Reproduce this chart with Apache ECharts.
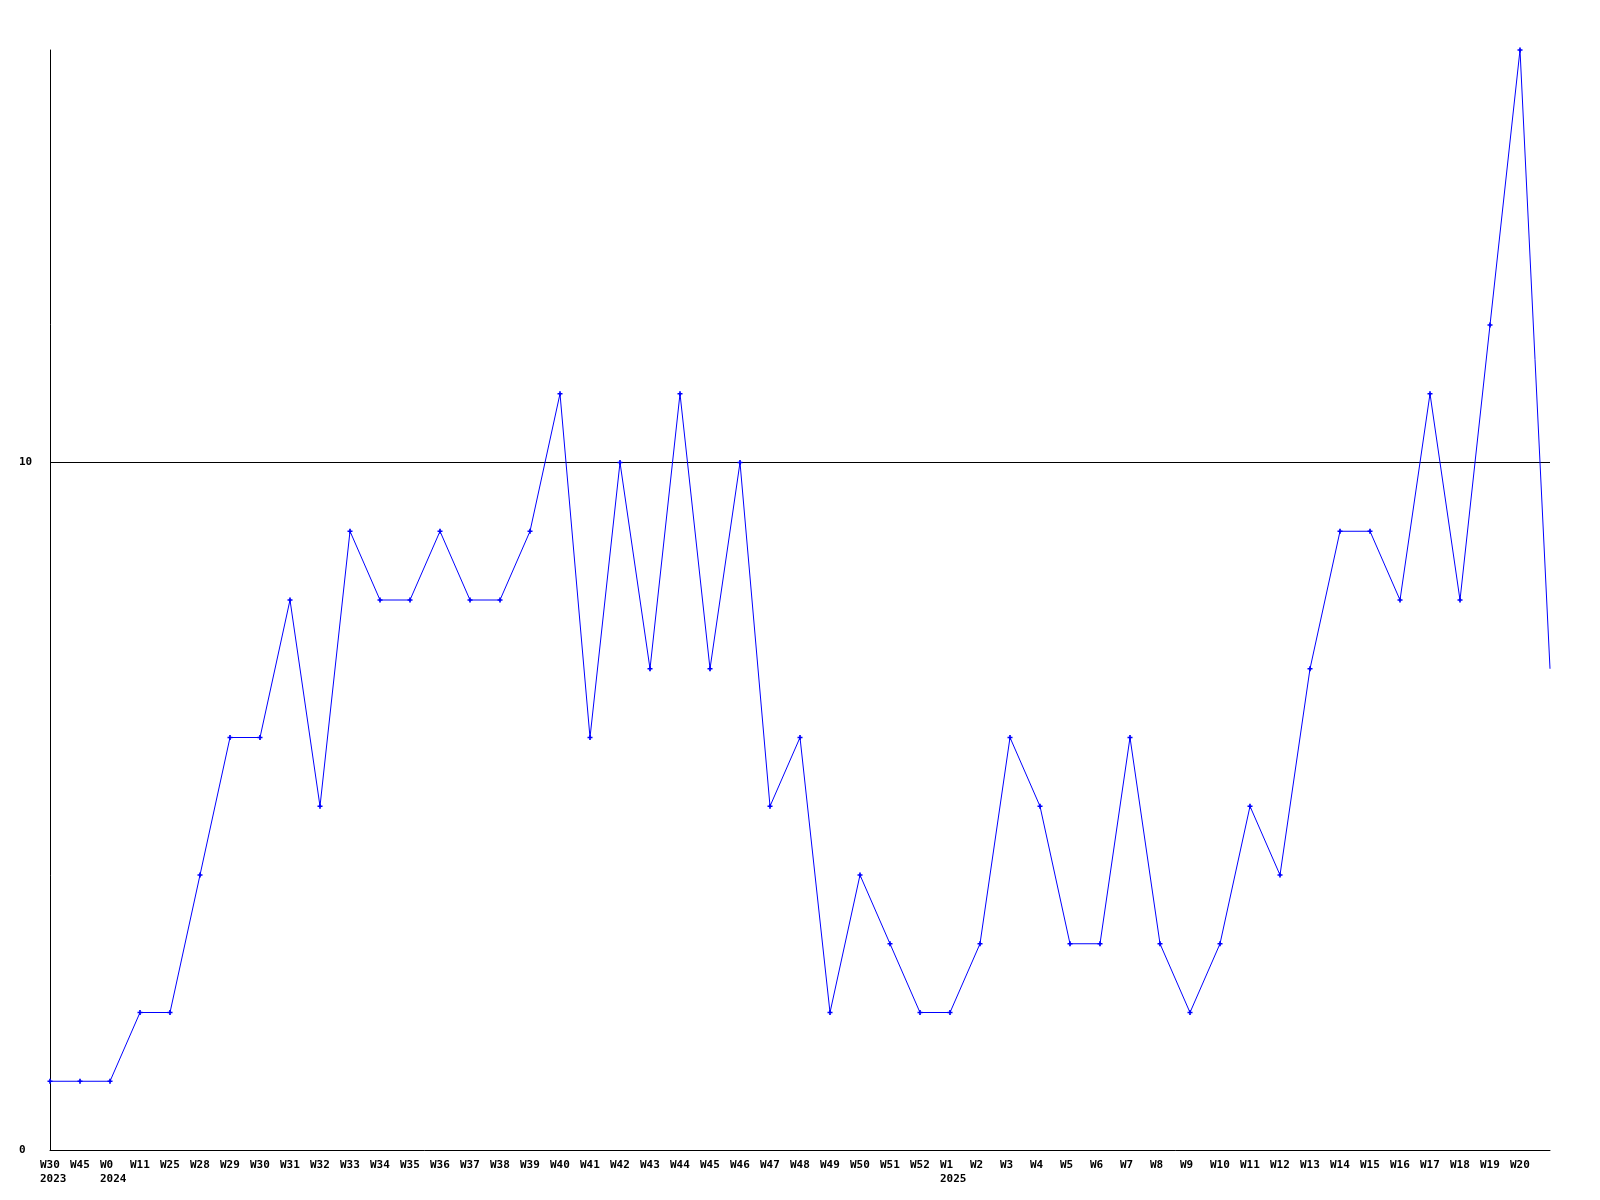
<!DOCTYPE html>
<html><head><meta charset="utf-8">
<script src="https://cdn.jsdelivr.net/npm/echarts@6/dist/echarts.min.js"></script>
<style>html,body{margin:0;padding:0;background:#fff}#c{width:1600px;height:1200px}</style>
</head><body><div id="c"></div>
<script>
const categories = ["W30\n2023","W45","W0\n2024","W11","W25","W28","W29","W30","W31","W32","W33","W34","W35","W36","W37","W38","W39","W40","W41","W42","W43","W44","W45","W46","W47","W48","W49","W50","W51","W52","W1\n2025","W2","W3","W4","W5","W6","W7","W8","W9","W10","W11","W12","W13","W14","W15","W16","W17","W18","W19","W20",""];
const values = [1,1,1,2,2,4,6,6,8,5,9,8,8,9,8,8,9,11,6,10,7,11,7,10,5,6,2,4,3,2,2,3,6,5,3,3,6,3,2,3,5,4,7,9,9,8,11,8,12,16,7];
const yTicks = [0,10];

const data = values.map((v,i)=> i===values.length-1 ? {value:v,symbol:'none'} : v);
const chart = echarts.init(document.getElementById('c'));
const font = {fontFamily:'DejaVu Sans Mono', fontWeight:'bold', fontSize:11, color:'#000'};
chart.setOption({
  animation:false,
  grid:{left:50,right:50,top:50,bottom:50},
  xAxis:{type:'category',data:categories,boundaryGap:false,
    axisLine:{lineStyle:{color:'#000',width:1}},axisTick:{show:false},
    axisLabel:Object.assign({interval:0,margin:8,align:'center',
      formatter:v=>v.split('\n').map(s=>'{a|'+s+'}').join('\n'),
      rich:{a:Object.assign({width:20,align:'left',lineHeight:14},font)}},font),
    splitLine:{show:false}},
  yAxis:{type:'value',min:0,max:16,interval:10,
    axisLine:{show:true,lineStyle:{color:'#000',width:1}},axisTick:{show:false},
    axisLabel:Object.assign({margin:31,align:'left',showMaxLabel:false,
      formatter:v=>yTicks.includes(v)?String(v):''},font),
    splitLine:{show:true,showMaxLine:false,showMinLine:false,lineStyle:{color:'#000',width:1}}},
  series:[{type:'line',data:data,
    symbol:'path://M1,0H2V1H3V2H2V3H1V2H0V1H1Z',symbolSize:5,showAllSymbol:true,
    lineStyle:{color:'#0000ff',width:1},itemStyle:{color:'#0000ff'}}]
});
</script></body></html>
